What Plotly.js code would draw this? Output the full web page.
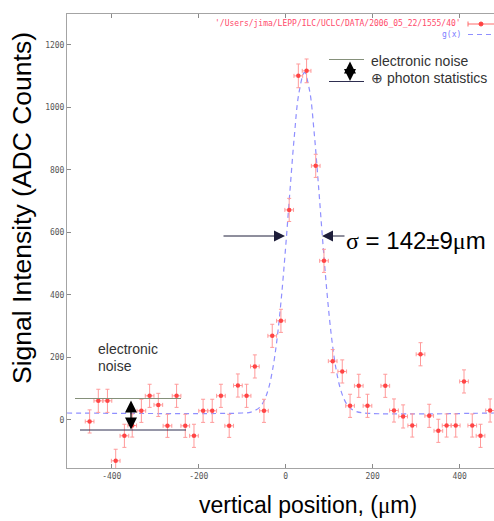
<!DOCTYPE html>
<html>
<head>
<meta charset="utf-8">
<script src="https://cdn.plot.ly/plotly-3.0.1.min.js"></script>
<style>html,body{margin:0;padding:0;background:#fff;}</style>
</head>
<body>
<div id="chart" style="width:494px;height:521px;"></div>
<script>
// ---- data ----
const xPos = [-451,-431,-410,-391,-371,-353,-332,-313,-293,-272,-251,-231,-211,-190,-169,-149,-130,-110,-90,-71,-50,-31,-11,8,29,48,69,88,108,130,148,168,188,229,249,270,291,310,330,351,370,391,410,429,448,470];
const yVal = [-5,61,61,-131,-51,-18,29,77,48,-19,77,-19,-51,29,29,77,-19,110,77,171,29,269,317,672,1101,1117,813,509,188,155,45,109,45,109,30,11,-18,210,13,-35,-18,-18,123,-18,-51,30];
const yErr = [37,37,37,37,37,37,37,37,37,37,37,37,37,37,37,37,37,37,37,37,37,37,37,37,38,38,37,37,37,37,37,37,37,37,37,37,37,37,37,37,37,37,37,37,37,37];
const xErr = [10,10,10,10,10,10,10,10,10,10,10,10,10,10,10,10,10,10,10,10,10,10,10,10,10,10,10,10,10,10,10,10,10,10,10,10,10,10,10,10,10,10,10,10,10,10];

// fitted curve g(x)
const fitX = [-503,-100,-80,-60,-50,-40,-30,-20,-10,0,10,20,30,43,55,65,75,85,95,105,115,125,135,145,160,180,479];
const fitY = [22,22,25,40,61,98,162,258,391,556,738,911,1043,1112,1053,926,756,574,406,269,169,103,64,42,28,22,22];

const xTicks = [-400,-200,0,200,400];
const yTicks = [0,200,400,600,800,1000,1200];

const dataLabel = "'/Users/jima/LEPP/ILC/UCLC/DATA/2006_05_22/1555/40'";
const fitLabel = "g(x)";
const xTitle = 'vertical position, (<span style="font-family:\'Liberation Serif\'">μ</span>m)';
const yTitle = 'Signal Intensity (ADC Counts)';
const sigmaText = '<span style="font-family:\'Liberation Serif\'">σ</span> = 142±9<span style="font-family:\'Liberation Serif\'">μ</span>m';

// ---- pixel -> paper helpers (plot area geometry) ----
const L = 67, T = 14, W = 427, H = 454;
const px = v => (v - L) / W;
const py = v => (T + H - v) / H;

const fitTrace = {
  x: fitX, y: fitY, type: 'scatter', mode: 'lines',
  line: {shape: 'spline', color: '#8f8fff', width: 1.2, dash: '5px,4px'},
  hoverinfo: 'skip'
};
const dataTrace = {
  x: xPos, y: yVal, type: 'scatter', mode: 'markers',
  marker: {symbol: 'circle', size: 4.5, color: '#ff4545', line: {width: 0}},
  error_y: {type: 'data', array: yErr, visible: true, color: '#ff9a9a', thickness: 1, width: 2},
  error_x: {type: 'data', array: xErr, visible: true, color: '#ff9a9a', thickness: 1, width: 2}
};

const textFont = {family: 'Liberation Sans, Arial, sans-serif', size: 14, color: '#333'};
const olive = '#85907a', navy = '#2e2e50';

const shapes = [
  // right "electronic noise ⊕ photon statistics" band
  {type:'line', xref:'paper', yref:'paper', x0:px(329), x1:px(364), y0:py(59.5), y1:py(59.5), line:{color:olive, width:1}},
  {type:'line', xref:'paper', yref:'paper', x0:px(329), x1:px(364), y0:py(81.5), y1:py(81.5), line:{color:navy, width:1}},
  // left "electronic noise" band
  {type:'line', xref:'paper', yref:'paper', x0:px(75), x1:px(181), y0:py(398.5), y1:py(398.5), line:{color:olive, width:1}},
  {type:'line', xref:'paper', yref:'paper', x0:px(80), x1:px(186), y0:py(430), y1:py(430), line:{color:navy, width:1}},
  // key sample for data
  {type:'line', xref:'paper', yref:'paper', x0:px(468), x1:px(494), y0:py(24), y1:py(24), line:{color:'#ff6a6a', width:1}},
  {type:'line', xref:'paper', yref:'paper', x0:px(468), x1:px(468), y0:py(21.5), y1:py(26.5), line:{color:'#ff6a6a', width:1}},
  {type:'circle', xref:'paper', yref:'paper', x0:px(479), x1:px(483), y0:py(22), y1:py(26), fillcolor:'#ff4040', line:{color:'#ff4040', width:1}},
  // key sample for g(x)
  {type:'line', xref:'paper', yref:'paper', x0:px(468), x1:px(494), y0:py(34.5), y1:py(34.5), line:{color:'#8f8fff', width:1.2, dash:'5px,4px'}}
];

const annotations = [
  {xref:'paper', yref:'paper', x:px(463), y:py(24), xanchor:'right', yanchor:'middle', showarrow:false,
   text:dataLabel, font:{family:'DejaVu Sans Mono, monospace', size:8, color:'#ff4a6a'}},
  {xref:'paper', yref:'paper', x:px(463), y:py(34.5), xanchor:'right', yanchor:'middle', showarrow:false,
   text:fitLabel, font:{family:'DejaVu Sans Mono, monospace', size:8, color:'#7c7cff'}},
  {xref:'paper', yref:'paper', x:px(369), y:py(61), xanchor:'left', yanchor:'middle', showarrow:false,
   text:'electronic noise', font:textFont},
  {xref:'paper', yref:'paper', x:px(369), y:py(78), xanchor:'left', yanchor:'middle', showarrow:false,
   text:'⊕ photon statistics', font:textFont},
  {xref:'paper', yref:'paper', x:px(96), y:py(349), xanchor:'left', yanchor:'middle', showarrow:false,
   text:'electronic', font:textFont},
  {xref:'paper', yref:'paper', x:px(96), y:py(366), xanchor:'left', yanchor:'middle', showarrow:false,
   text:'noise', font:textFont},
  // double arrows
  {xref:'paper', yref:'paper', x:px(350), y:py(81), ax:0, ay:-21, text:'', showarrow:true,
   arrowside:'end+start', arrowhead:2, startarrowhead:2, arrowsize:2, startarrowsize:2, arrowwidth:1.2, arrowcolor:'#000'},
  {xref:'paper', yref:'paper', x:px(131), y:py(429.5), ax:0, ay:-30.5, text:'', showarrow:true,
   arrowside:'end+start', arrowhead:2, startarrowhead:2, arrowsize:2, startarrowsize:2, arrowwidth:1.2, arrowcolor:'#000'},
  // sigma arrows
  {xref:'paper', yref:'paper', x:px(285), y:py(236), ax:-63, ay:0, text:'', showarrow:true,
   arrowhead:2, arrowsize:2.2, arrowwidth:1, arrowcolor:'#1e1e3a'},
  {xref:'paper', yref:'paper', x:px(322), y:py(236), ax:24, ay:0, text:'', showarrow:true,
   arrowhead:2, arrowsize:2.2, arrowwidth:1, arrowcolor:'#1e1e3a'},
  {xref:'paper', yref:'paper', x:px(344), y:py(240), xanchor:'left', yanchor:'middle', showarrow:false,
   text:sigmaText, font:{family:'Liberation Sans, Arial, sans-serif', size:24, color:'#000'}},
  // axis titles
  {xref:'paper', yref:'paper', x:px(22), y:py(208), xanchor:'center', yanchor:'middle', showarrow:false,
   textangle:-90, text:yTitle, font:{family:'Liberation Sans, Arial, sans-serif', size:26.5, color:'#000'}},
  {xref:'paper', yref:'paper', x:px(308), y:py(505), xanchor:'center', yanchor:'middle', showarrow:false,
   text:xTitle, font:{family:'Liberation Sans, Arial, sans-serif', size:23, color:'#000'}}
];

const axisCommon = {
  ticks:'inside', ticklen:4, tickwidth:1, tickcolor:'#8a8a8a',
  showline:true, linecolor:'#a4a4a4', linewidth:1,
  showgrid:false, zeroline:false,
  tickfont:{family:'DejaVu Sans Mono, monospace', size:8, color:'#555'}
};

const layout = {
  width:494, height:521,
  margin:{l:L, r:0, t:T, b:521 - T - H},
  paper_bgcolor:'#fff', plot_bgcolor:'#fff',
  showlegend:false,
  xaxis:Object.assign({}, axisCommon, {range:[-503, 479], tickvals:xTicks, ticktext:xTicks.map(String), mirror:'ticks'}),
  yaxis:Object.assign({}, axisCommon, {range:[-154, 1299], tickvals:yTicks, ticktext:yTicks.map(String), mirror:false}),
  shapes:shapes,
  annotations:annotations
};

Plotly.newPlot('chart', [fitTrace, dataTrace], layout, {displayModeBar:false, staticPlot:true});
</script>
</body>
</html>
